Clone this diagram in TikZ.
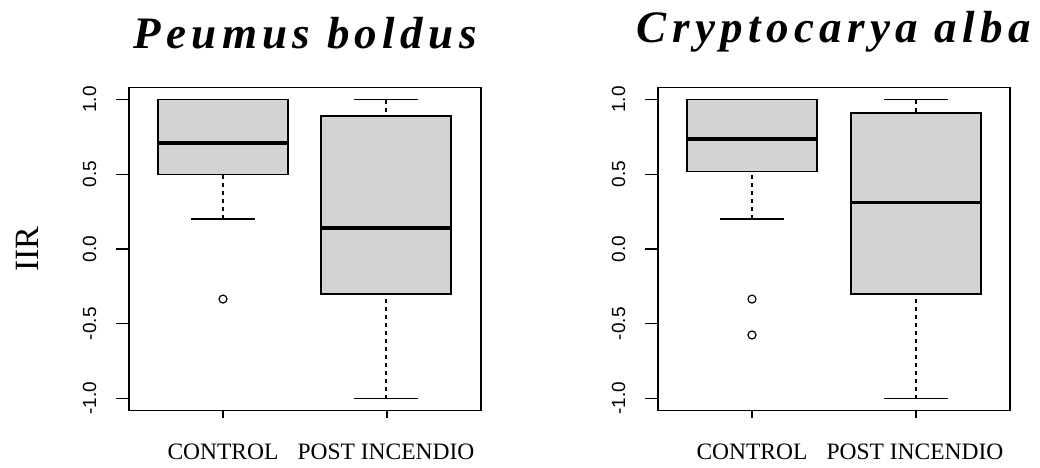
\documentclass[tikz,border=0pt]{standalone}
\usepackage{fontspec}
\setmainfont{Liberation Serif}
\newfontfamily\ticksans{Liberation Sans}
\newfontfamily\titleserif[LetterSpace=12]{Liberation Serif}
\usepackage{xcolor}
\usepackage{tikz}
\definecolor{boxgray}{RGB}{211,211,211}

\begin{document}
\begin{tikzpicture}[x=1pt, y=1pt,
    frame/.style={line width=1.4pt},
    boxbody/.style={line width=1.4pt, fill=boxgray},
    whisker/.style={line width=1.4pt, dash pattern=on 4pt off 4pt},
    medline/.style={line width=3.6pt},
    ticklabel/.style={rotate=90, anchor=base, inner sep=0pt, font=\ticksans\fontsize{19}{21}\selectfont},
    grouplabel/.style={anchor=base, inner sep=0pt, font=\fontsize{23.5}{26}\selectfont},
    paneltitle/.style={anchor=base, inner sep=0pt, font=\titleserif\bfseries\itshape\fontsize{45}{50}\selectfont}]
  \useasboundingbox (0,0) rectangle (1040,467);
  \begin{scope}[shift={(0,218)}, y=149.5pt]
  % axes, ticks and titles of both panels
  \foreach \dx/\p/\title/\tv in {0/pb/Peumus boldus/1.344, 529/ca/Cryptocarya alba/1.378} {
    \begin{scope}[xshift=\dx]
      \draw[frame] (129,-1.08) rectangle (481,1.08);
      \foreach \v/\t [count=\i] in {-1/-1.0, -0.5/-0.5, 0/0.0, 0.5/0.5, 1/1.0} {
        \draw[frame] (116,\v) -- (129,\v);
        \node[ticklabel] (\p-ytick\i) at (96,\v) {\t};
      }
      \draw[frame] (223,-1.08) -- (223,-1.13);
      \draw[frame] (387,-1.08) -- (387,-1.13);
      \node[grouplabel] (\p-control) at (223,-1.411) {CONTROL};
      \node[grouplabel] (\p-post) at (386,-1.411) {POST INCENDIO};
      \node[paneltitle] (\p-title) at (305,\tv) {\title};
    \end{scope}
  }
  \node[rotate=90, anchor=base, inner sep=0pt, font=\fontsize{34}{36}\selectfont] (iir) at (38,0) {IIR};

  % boxes: centre / lower whisker / Q1 / median / Q3 / upper whisker
  \foreach \cx/\lo/\qa/\md/\qb/\hi in {223/0.2/0.5/0.71/1.0/1.0, 386/-1/-0.30/0.14/0.89/1,
      752/0.2/0.52/0.736/1.0/1.0, 916/-1/-0.30/0.31/0.91/1} {
    \draw[whisker] (\cx,\lo) -- (\cx,\qa);
    \draw[whisker] (\cx,\hi) -- (\cx,\qb);
    \draw[frame] (\cx-32,\lo) -- (\cx+32,\lo);
    \draw[frame] (\cx-32,\hi) -- (\cx+32,\hi);
    \draw[boxbody] (\cx-65,\qa) rectangle (\cx+65,\qb);
    \draw[medline] (\cx-65,\md) -- (\cx+65,\md);
  }

  % outliers
  \foreach \cx/\v in {223/-0.335, 752/-0.335, 752/-0.575}
    \draw[line width=1.2pt] (\cx,\v) circle[radius=4pt];
  \end{scope}
\end{tikzpicture}
\end{document}
